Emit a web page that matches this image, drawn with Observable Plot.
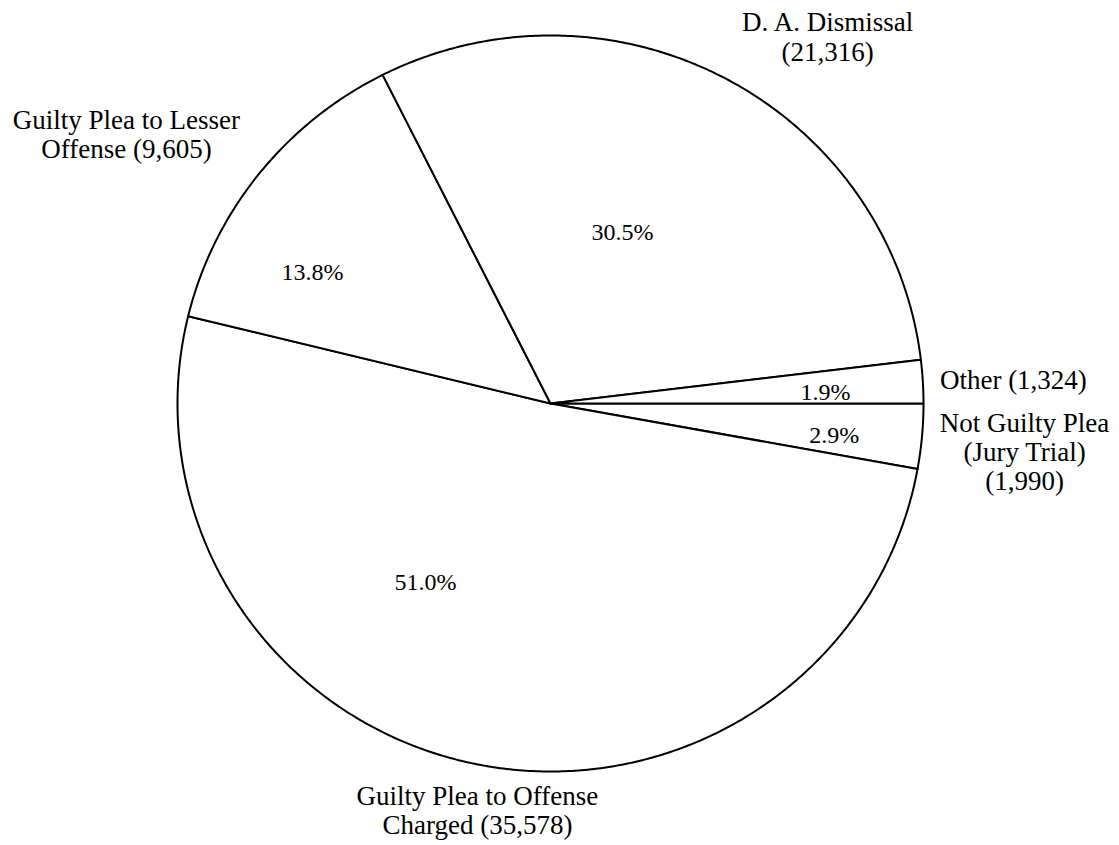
<!DOCTYPE html>
<html>
<head>
<meta charset="utf-8">
<script src="https://cdn.jsdelivr.net/npm/d3@7"></script>
<script src="https://cdn.jsdelivr.net/npm/@observablehq/plot@0.6"></script>
<style>
  html, body { margin: 0; padding: 0; background: #fff; }
  #chart svg { display: block; }
</style>
</head>
<body>
<div id="chart"></div>
<script>
// ---- Data (clockwise from 3 o'clock) ----
const categories = [
  "Not Guilty Plea (Jury Trial)",
  "Guilty Plea to Offense Charged",
  "Guilty Plea to Lesser Offense",
  "D. A. Dismissal",
  "Other"
];
const counts = [1990, 35578, 9605, 21316, 1324];
const percentLabels = ["2.9%", "51.0%", "13.8%", "30.5%", "1.9%"];
const outerLabels = [
  "Not Guilty Plea\n(Jury Trial)\n(1,990)",
  "Guilty Plea to Offense\nCharged (35,578)",
  "Guilty Plea to Lesser\nOffense (9,605)",
  "D. A. Dismissal\n(21,316)",
  "Other (1,324)"
];

// ---- Layout (chart units: pie radius = 1) ----
const W = 1119, H = 845;
const CX = 550, CY = 403, RX = 373, RY = 368;
const pctPos = [[0.761, -0.087], [-0.335, -0.486], [-0.638, 0.356], [0.193, 0.465], [0.737, 0.030]];
const outerPos = [[1.271, -0.130], [-0.196, -1.106], [-1.137, 0.731], [0.743, 0.997], [1.241, 0.064]];

// ---- Pie geometry via d3.pie ----
const table = categories.map((c, i) => ({category: c, count: counts[i]}));
const arcs = d3.pie().sort(null).value(d => d.count)
  .startAngle(Math.PI / 2).endAngle(Math.PI / 2 + 2 * Math.PI)(table);

const slicePts = [];
arcs.forEach(a => {
  const n = Math.max(2, Math.ceil((a.endAngle - a.startAngle) / (Math.PI / 360)));
  slicePts.push({category: a.data.category, x: 0, y: 0});
  for (let k = 0; k <= n; k++) {
    const t = a.startAngle + (a.endAngle - a.startAngle) * k / n;
    slicePts.push({category: a.data.category, x: Math.sin(t), y: Math.cos(t)});
  }
  slicePts.push({category: a.data.category, x: 0, y: 0});
});

const pctData = percentLabels.map((t, i) => ({text: t, x: pctPos[i][0], y: pctPos[i][1]}));
const outerData = outerLabels.map((t, i) => ({text: t, x: outerPos[i][0], y: outerPos[i][1]}));

const chart = Plot.plot({
  width: W,
  height: H,
  margin: 0,
  x: {domain: [-CX / RX, (W - CX) / RX], axis: null},
  y: {domain: [-(H - CY) / RY, CY / RY], axis: null},
  style: {fontFamily: "'Liberation Serif', 'Times New Roman', serif", background: "#fff", color: "#000"},
  marks: [
    Plot.line(slicePts, {x: "x", y: "y", z: "category", fill: "white", stroke: "black", strokeWidth: 2, strokeLinejoin: "round", curve: "linear"}),
    Plot.text(pctData, {x: "x", y: "y", text: "text", fontSize: 24, fill: "black"}),
    Plot.text(outerData, {x: "x", y: "y", text: "text", fontSize: 27, lineHeight: 1.08, fill: "black"})
  ]
});
document.getElementById("chart").appendChild(chart);
</script>
</body>
</html>
